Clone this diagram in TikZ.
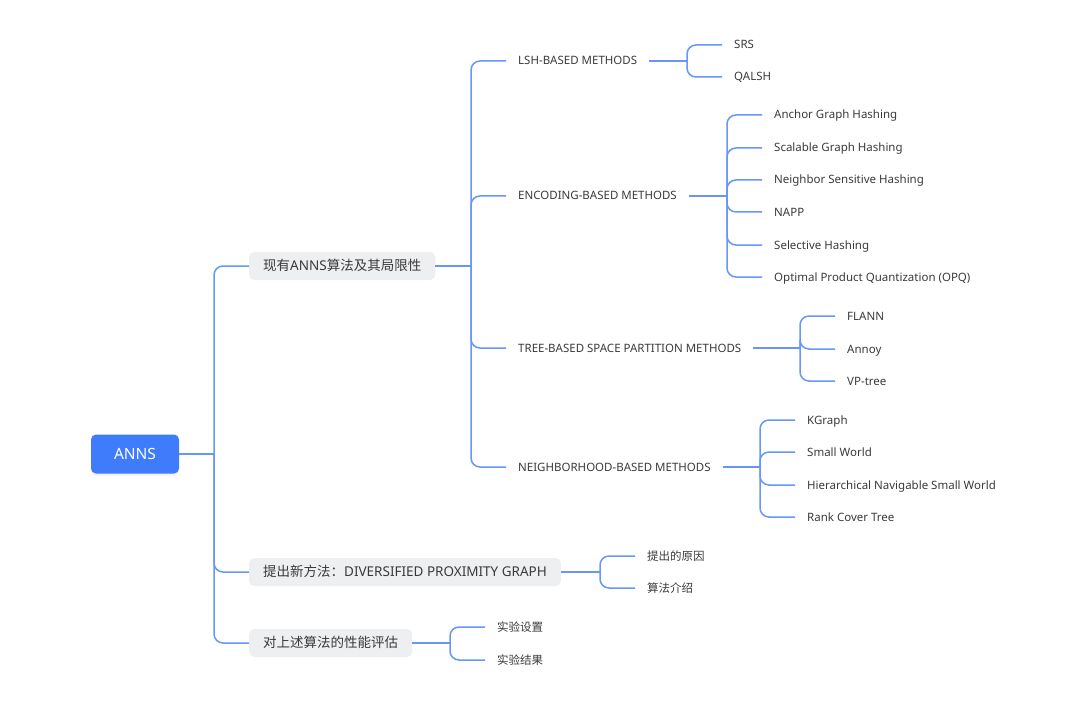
\documentclass[tikz,border=0pt]{standalone}
\usepackage{fontspec}
\setmainfont{Noto Sans}
\newfontfamily\cjk{Noto Sans CJK SC}
\usetikzlibrary{calc,shadows}
\definecolor{linec}{HTML}{6697F8}
\definecolor{rootc}{HTML}{3F7CFB}
\definecolor{boxc}{HTML}{EEEFF1}
\definecolor{txtc}{HTML}{3A3A3A}
\tikzset{
  conn/.style={draw=linec, line width=1.5pt},
  rootnode/.style={fill=rootc, text=white, rounded corners=5pt, minimum width=88pt, minimum height=39pt, inner sep=0pt,
    font=\fontsize{15.5}{18}\selectfont, drop shadow={opacity=0.12, shadow xshift=0pt, shadow yshift=-2pt}},
  l1node/.style={fill=boxc, text=txtc, rounded corners=5pt, text height=11pt, text depth=2pt, minimum height=28pt, inner xsep=14pt, inner ysep=0pt, anchor=west,
    font=\fontsize{13.5}{16}\selectfont},
  l2node/.style={text=txtc, inner xsep=12pt, inner ysep=0pt, text height=9pt, text depth=1pt, anchor=west, font=\fontsize{11.5}{13}\selectfont},
  leaf/.style={text=txtc, inner xsep=12pt, inner ysep=0pt, text height=9.5pt, text depth=1.5pt, anchor=west, font=\fontsize{11.5}{14}\selectfont},
}
\newcommand\mmjoin[2]{% parent, first child -> junction coordinate J<parent>
  \coordinate (J#1) at ($(#1.east -| #2.west)+(-35,0)$);
  \draw[conn] (#1.east) -- (J#1);
}
\newcommand\mmkid[2]{\draw[conn, rounded corners=9pt] (J#1) |- (#2.west);}
\begin{document}
\begin{tikzpicture}[x=1pt,y=-1pt]
\useasboundingbox (0,0) rectangle (1080,706);

% root
\node[rootnode] (root) at (135,454) {ANNS};

% level 1
\node[l1node] (a) at (249,266) {{\cjk 现有}ANNS{\cjk 算法及其局限性}};
\node[l1node] (b) at (249,572) {{\cjk 提出新方法：}DIVERSIFIED PROXIMITY GRAPH};
\node[l1node] (c) at (249,643) {{\cjk 对上述算法的性能评估}};

% level 2
\node[l2node] (lsh) at (506,61) {LSH-BASED METHODS};
\node[l2node] (enc) at (506,196) {ENCODING-BASED METHODS};
\node[l2node] (tree) at (506,348) {TREE-BASED SPACE PARTITION METHODS};
\node[l2node] (nbr) at (506,467) {NEIGHBORHOOD-BASED METHODS};

% leaves of LSH
\node[leaf] (srs) at (722,45) {SRS};
\node[leaf] (qalsh) at (722,77) {QALSH};

% leaves of encoding
\node[leaf] (agh) at (762,115) {Anchor Graph Hashing};
\node[leaf] (sgh) at (762,148) {Scalable Graph Hashing};
\node[leaf] (nsh) at (762,180) {Neighbor Sensitive Hashing};
\node[leaf] (napp) at (762,212) {NAPP};
\node[leaf] (sh) at (762,245) {Selective Hashing};
\node[leaf] (opq) at (762,277) {Optimal Product Quantization (OPQ)};

% leaves of tree
\node[leaf] (flann) at (835,316) {FLANN};
\node[leaf] (annoy) at (835,349) {Annoy};
\node[leaf] (vp) at (835,381) {VP-tree};

% leaves of neighborhood
\node[leaf] (kg) at (795,420) {KGraph};
\node[leaf] (sw) at (795,452) {Small World};
\node[leaf] (hnsw) at (795,485) {Hierarchical Navigable Small World};
\node[leaf] (rct) at (795,517) {Rank Cover Tree};

% leaves of b
\node[leaf] (b1) at (635,556) {\cjk 提出的原因};
\node[leaf] (b2) at (635,588) {\cjk 算法介绍};

% leaves of c
\node[leaf] (c1) at (485,627) {\cjk 实验设置};
\node[leaf] (c2) at (485,660) {\cjk 实验结果};

% connectors
\mmjoin{root}{a}
\mmkid{root}{a}\mmkid{root}{b}\mmkid{root}{c}

\mmjoin{a}{lsh}
\mmkid{a}{lsh}\mmkid{a}{enc}\mmkid{a}{tree}\mmkid{a}{nbr}

\mmjoin{lsh}{srs}
\mmkid{lsh}{srs}\mmkid{lsh}{qalsh}

\mmjoin{enc}{agh}
\mmkid{enc}{agh}\mmkid{enc}{sgh}\mmkid{enc}{nsh}\mmkid{enc}{napp}\mmkid{enc}{sh}\mmkid{enc}{opq}

\mmjoin{tree}{flann}
\mmkid{tree}{flann}\mmkid{tree}{annoy}\mmkid{tree}{vp}

\mmjoin{nbr}{kg}
\mmkid{nbr}{kg}\mmkid{nbr}{sw}\mmkid{nbr}{hnsw}\mmkid{nbr}{rct}

\mmjoin{b}{b1}
\mmkid{b}{b1}\mmkid{b}{b2}

\mmjoin{c}{c1}
\mmkid{c}{c1}\mmkid{c}{c2}
\end{tikzpicture}
\end{document}
